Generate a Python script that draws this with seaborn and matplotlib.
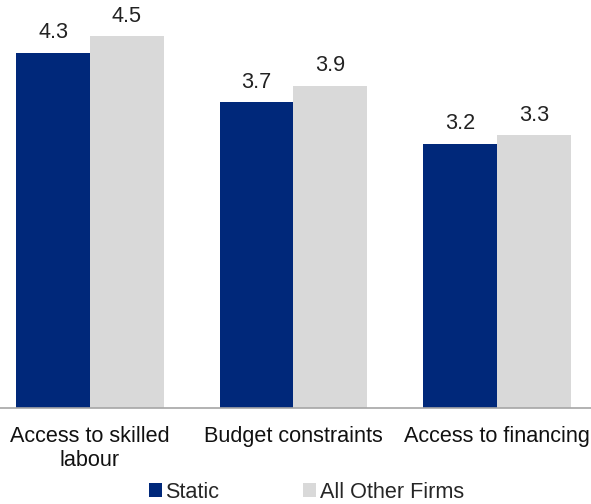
import matplotlib
matplotlib.use("Agg")
import matplotlib.pyplot as plt
import seaborn as sns
import pandas as pd

categories = ["Access to skilled\nlabour", "Budget constraints", "Access to financing"]
static_values = [4.3, 3.7, 3.2]
other_values = [4.5, 3.9, 3.3]
series_names = ["Static", "All Other Firms"]
colors = ["#00287A", "#D9D9D9"]

df = pd.DataFrame({
    "category": categories * 2,
    "value": static_values + other_values,
    "group": [series_names[0]] * 3 + [series_names[1]] * 3,
})

sns.set_style("white")
plt.rcParams["font.family"] = ["Liberation Sans", "DejaVu Sans"]

FS = 15.6

fig = plt.figure(figsize=(5.91, 5.04), dpi=100)
ax = fig.add_axes([0, 96 / 504, 1, 408 / 504])

sns.barplot(data=df, x="category", y="value", hue="group", palette=colors,
            width=0.725, gap=0, saturation=1, linewidth=0, ax=ax, legend=True)

for container in ax.containers:
    ax.bar_label(container, fmt="%.1f", padding=7, fontsize=FS, color="#222222")

ax.set_xlim(-0.442, 2.462)
ax.set_ylim(0, 4.94)
ax.set_xlabel("")
ax.set_ylabel("")
ax.set_yticks([])
for side in ["top", "right", "left"]:
    ax.spines[side].set_visible(False)
ax.spines["bottom"].set_color("#A6A6A6")
ax.spines["bottom"].set_linewidth(1.2)
ax.tick_params(axis="x", length=0, pad=13, labelsize=FS, labelcolor="#111111")

handles, labels = ax.get_legend_handles_labels()
ax.legend(handles, labels, loc="lower center", bbox_to_anchor=(0.518, -0.27),
          ncol=2, frameon=False, fontsize=FS, handlelength=0.6, handleheight=0.6,
          handletextpad=0.15, columnspacing=3.9, borderpad=0.2)

fig.savefig("out.png", dpi=100)
